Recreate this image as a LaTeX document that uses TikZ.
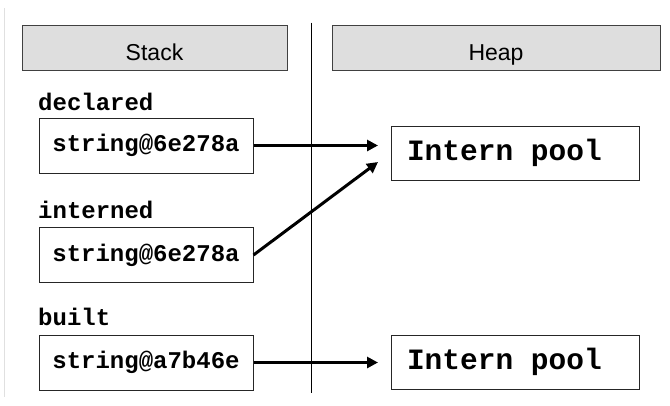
\documentclass[tikz,border=0pt]{standalone}
\usepackage{fontspec}
\setmainfont{Liberation Sans}
\newfontfamily\cour{Liberation Mono}
\usetikzlibrary{arrows.meta}
\newcommand\poolline[1]{\makebox[216pt][l]{#1}}
\tikzset{
  header/.style={draw=black!75, fill=black!13, line width=1pt, minimum height=45pt, inner sep=0pt, text height=23.6pt, text depth=0pt, font=\fontsize{23}{27}\selectfont},
  varbox/.style={draw=black!85, line width=1pt, minimum width=214pt, minimum height=55pt, inner sep=0pt, font=\cour\bfseries\fontsize{24}{28}\selectfont},
  poolbox/.style={draw=black!85, line width=1pt, inner xsep=16pt, inner ysep=0pt, minimum height=54pt, font=\cour\bfseries\fontsize{29.5}{34}\selectfont},
  varlabel/.style={anchor=base west, inner sep=0pt, font=\cour\bfseries\fontsize{24}{28}\selectfont},
  ptr/.style={line width=3pt, -{Triangle[length=11pt,width=11pt]}},
}
\begin{document}
\begin{tikzpicture}[x=1pt,y=-1pt]
\useasboundingbox (0,0) rectangle (670,405);
\draw[black!12, line width=1pt] (4,8) -- (4,397);
\node[header, minimum width=265pt] (stack) at (154.5,48.2) {Stack};
\node[header, minimum width=328pt] (heap) at (496,48.2) {Heap};
\coordinate (dtop) at (311.7,22.7);
\coordinate (dbot) at (311.7,393);
\draw[line width=1pt] (dtop) -- (dbot);
\node[varlabel] (l1) at (38,110) {declared};
\node[varlabel] (l2) at (38,218) {interned};
\node[varlabel] (l3) at (38,325) {built};
\node[varbox] (b1) at (146,145.5) {string@6e278a};
\node[varbox] (b2) at (146,255) {string@6e278a};
\node[varbox] (b3) at (146,362.5) {string@a7b46e};
\node[poolbox] (p1) at (515,153) {\poolline{Intern pool}};
\node[poolbox] (p2) at (515,362) {\poolline{Intern pool}};
\coordinate (t1) at (378,145.5);
\coordinate (t2) at (378,162);
\coordinate (t3) at (378,362.5);
\draw[ptr] (b1.east) -- (t1);
\draw[ptr] (b2.east) -- (t2);
\draw[ptr] (b3.east) -- (t3);
\end{tikzpicture}
\end{document}
